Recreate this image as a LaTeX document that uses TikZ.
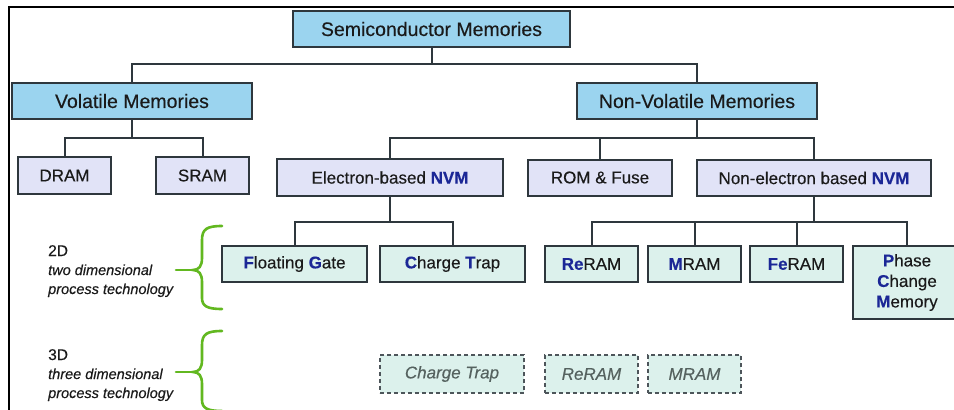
\documentclass[tikz,border=0pt]{standalone}
\usepackage{fontspec}
\setmainfont{Liberation Sans}[FakeBold=0.3]
\usetikzlibrary{calc}
\definecolor{topfill}{HTML}{9BD4EF}
\definecolor{midfill}{HTML}{E1E3F7}
\definecolor{leaffill}{HTML}{DCF1EC}
\definecolor{boxline}{HTML}{2E373D}
\definecolor{txt}{HTML}{1A1A1A}
\definecolor{nvblue}{HTML}{1B2796}
\definecolor{bracegreen}{HTML}{62B820}
\definecolor{ghost}{HTML}{55625F}
\newcommand\hl[1]{{\color{nvblue}\bfseries #1}}
\begin{document}
\begin{tikzpicture}[x=1pt,y=-1pt,
  basebox/.style={draw=boxline,line width=2pt,inner sep=0pt,text=txt,align=center},
  topbox/.style={basebox,fill=topfill,minimum height=36pt,font=\fontsize{19.5}{23}\selectfont},
  midbox/.style={basebox,fill=midfill,minimum height=36pt,font=\fontsize{17}{20}\selectfont},
  leafbox/.style={basebox,fill=leaffill,minimum height=36pt,font=\fontsize{17}{20.5}\selectfont},
  dashbox/.style={draw=boxline!85,line width=1.6pt,dash pattern=on 4pt off 3pt,inner sep=0pt,
    fill=leaffill,minimum height=38pt,text=ghost,font=\fontsize{17}{20}\selectfont\itshape},
  link/.style={draw=boxline,line width=2pt},
  brace/.style={draw=bracegreen,line width=2.6pt,line cap=round},
  techlabel/.style={anchor=base west,inner sep=0pt,text=txt,font=\fontsize{15.5}{18}\selectfont},
  technote/.style={techlabel,font=\fontsize{14.5}{18}\selectfont\itshape}]
\useasboundingbox (0,0) rectangle (954,410);
\fill[white] (0,0) rectangle (954,410);

% outer frame
\draw[line width=2pt,black] (9,412) -- (9,7) -- (960,7);

% boxes
\node[topbox,minimum width=277pt] (semi) at (431.5,29) {Semiconductor Memories};
\node[topbox,minimum width=240pt] (vol) at (132,101) {Volatile Memories};
\node[topbox,minimum width=240pt] (nvm) at (697,101) {Non-Volatile Memories};

\node[midbox,minimum width=93pt,minimum height=37pt] (dram) at (64.5,175.5) {DRAM};
\node[midbox,minimum width=93pt,minimum height=37pt] (sram) at (202.5,175.5) {SRAM};
\node[midbox,minimum width=226pt,minimum height=37pt] (elec) at (390,177.5) {Electron-based \hl{NVM}};
\node[midbox,minimum width=144pt] (rom) at (600,177.5) {ROM \& Fuse};
\node[midbox,minimum width=234pt] (nonel) at (814,178) {Non-electron based \hl{NVM}};

\node[leafbox,minimum width=145pt] (fg) at (294.5,264) {\hl{F}loating \hl{G}ate};
\node[leafbox,minimum width=145pt] (ct) at (452.5,264) {\hl{C}harge \hl{T}rap};
\node[leafbox,minimum width=93pt] (re) at (591.5,264) {\hl{Re}RAM};
\node[leafbox,minimum width=93pt] (mr) at (694.5,264) {\hl{M}RAM};
\node[leafbox,minimum width=93pt] (fe) at (796.5,264) {\hl{Fe}RAM};
\node[leafbox,minimum width=108pt,minimum height=73pt] (pcm) at (907,282.5) {\hl{P}hase\\\hl{C}hange\\\hl{M}emory};

\node[dashbox,minimum width=144pt] (ct3) at (452,374) {Charge Trap};
\node[dashbox,minimum width=93pt] (re3) at (591.5,374) {ReRAM};
\node[dashbox,minimum width=93pt] (mr3) at (694.5,374) {MRAM};

% bus levels of the tree
\coordinate (b1) at (0,64);
\coordinate (b2) at (0,138);
\coordinate (b3) at (0,222);

\draw[link] (semi.south) -- (semi.south |- b1);
\draw[link] (vol.north) |- (nvm.north |- b1) -- (nvm.north);

\draw[link] (vol.south) -- (vol.south |- b2);
\draw[link] (dram.north) |- (sram.north |- b2) -- (sram.north);

\draw[link] (nvm.south) -- (nvm.south |- b2);
\draw[link] (elec.north) |- (nonel.north |- b2) -- (nonel.north);
\draw[link] (rom.north) -- (rom.north |- b2);

\draw[link] (elec.south) -- (elec.south |- b3);
\draw[link] (fg.north) |- (ct.north |- b3) -- (ct.north);

\draw[link] (nonel.south) -- (nonel.south |- b3);
\draw[link] (re.north) |- (pcm.north |- b3) -- (pcm.north);
\draw[link] (mr.north) -- (mr.north |- b3);
\draw[link] (fe.north) -- (fe.north |- b3);

% process technology labels
\node[techlabel] (l2a) at (48,256) {2D};
\node[technote] (l2b) at (48,275) {two dimensional};
\node[technote] (l2c) at (48,294) {process technology};

\node[techlabel] (l3a) at (48,360) {3D};
\node[technote] (l3b) at (48,379) {three dimensional};
\node[technote] (l3c) at (48,398) {process technology};

% curly braces
\draw[brace] (222,226) .. controls (207,226) and (202,229) .. (202,240) -- (202,258)
  .. controls (202,266) and (199,270) .. (193,270)
  .. controls (199,270) and (202,274) .. (202,282) -- (202,298)
  .. controls (202,306) and (207,309) .. (222,309);
\draw[brace] (193,270) -- (176,270);

\draw[brace] (222,331) .. controls (207,331) and (202,334) .. (202,345) -- (202,360)
  .. controls (202,368) and (199,372) .. (193,372)
  .. controls (199,372) and (202,376) .. (202,384) -- (202,400)
  .. controls (202,408) and (207,411) .. (222,411);
\draw[brace] (193,372) -- (176,372);
\end{tikzpicture}
\end{document}
